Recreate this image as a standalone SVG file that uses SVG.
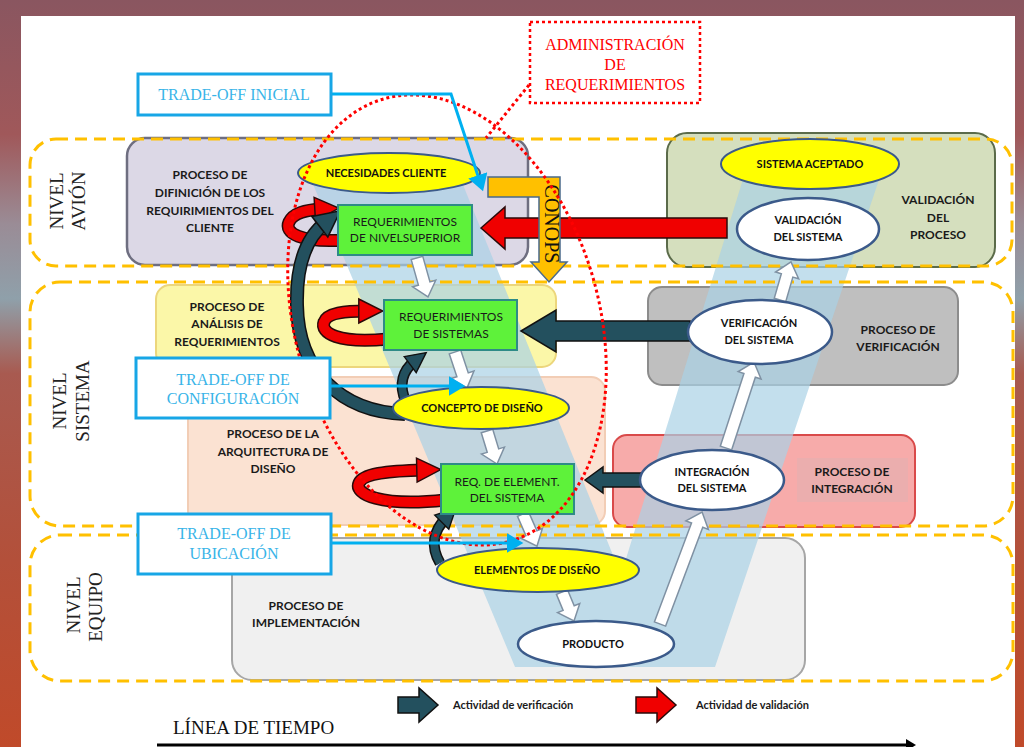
<svg xmlns="http://www.w3.org/2000/svg" width="1024" height="747" viewBox="0 0 1024 747">
<defs>
<style>
.pt{font-family:Lato,"Liberation Sans",sans-serif;font-weight:bold;font-size:12px;fill:#1a1a1a;text-anchor:middle}
.nb{font-family:Lato,"Liberation Sans",sans-serif;font-weight:bold;font-size:11px;fill:#111;text-anchor:middle}
.nr{font-family:Lato,"Liberation Sans",sans-serif;font-size:12px;fill:#1a1a1a;text-anchor:middle}
.lv{font-family:"Liberation Serif",serif;font-size:19px;fill:#222;text-anchor:middle}
.to{font-family:"Liberation Serif",serif;font-size:16px;fill:#38b4e8;text-anchor:middle}
.tobox{fill:#fff;stroke:#17a6e6;stroke-width:3}
.band{fill:none;stroke:#ffc000;stroke-width:3;stroke-dasharray:12 7}
.yel{fill:#ffff00;stroke:#3b5a8a;stroke-width:2}
.wht{fill:#fff;stroke:#3b5a8a;stroke-width:2.5}
.grn{fill:#5ef23a;stroke:#2e8b87;stroke-width:2}
.harrow{fill:#fff;stroke:#7f91a3;stroke-width:1.5}
.teal{fill:#23505e;stroke:#111;stroke-width:1.5}
.blue{fill:none;stroke:#00b0f0;stroke-width:3}
.lg{font-family:Lato,"Liberation Sans",sans-serif;font-weight:bold;font-size:11px;fill:#1a1a1a}
</style>
<linearGradient id="bg" x1="0" y1="0" x2="0" y2="1">
<stop offset="0" stop-color="#8a5660"/>
<stop offset="0.18" stop-color="#a0585a"/>
<stop offset="0.3" stop-color="#9a8c96"/>
<stop offset="0.4" stop-color="#8fa0aa"/>
<stop offset="0.5" stop-color="#a85a50"/>
<stop offset="0.75" stop-color="#b3503a"/>
<stop offset="1" stop-color="#c04a2a"/>
</linearGradient>
<marker id="mTeal" viewBox="0 0 10 10" refX="3" refY="5" markerWidth="26" markerHeight="26" markerUnits="userSpaceOnUse" orient="auto" overflow="visible"><path d="M0,0 L10,5 L0,10 Z" fill="#23505e" stroke="#111" stroke-width="0.6"/></marker>
<marker id="mTealS" viewBox="0 0 10 10" refX="3" refY="5" markerWidth="20" markerHeight="20" markerUnits="userSpaceOnUse" orient="auto" overflow="visible"><path d="M0,0 L10,5 L0,10 Z" fill="#23505e" stroke="#111" stroke-width="0.7"/></marker>
<marker id="mRed" viewBox="0 0 10 10" refX="3" refY="5" markerWidth="24" markerHeight="24" markerUnits="userSpaceOnUse" orient="auto" overflow="visible"><path d="M0,0 L10,5 L0,10 Z" fill="#f00000" stroke="#2a0a0a" stroke-width="0.6"/></marker>
<marker id="mBlue" viewBox="0 0 10 12" refX="8" refY="6" markerWidth="17" markerHeight="20" markerUnits="userSpaceOnUse" orient="auto"><path d="M0,0 L10,6 L0,12 Z" fill="#00b0f0"/></marker>
</defs>

<rect x="0" y="0" width="1024" height="747" fill="url(#bg)"/>
<rect x="21" y="16" width="994" height="731" fill="#ffffff"/>

<g id="process-boxes">
<g id="proc-definicion">
<rect x="127" y="138" width="401" height="127" rx="18" fill="#dcd8e6" stroke="#6e6e80" stroke-width="2.5"/>
<text class="pt" x="210" y="179">PROCESO DE</text>
<text class="pt" x="210" y="197">DIFINICIÓN  DE LOS</text>
<text class="pt" x="210" y="215">REQUIRIMIENTOS  DEL</text>
<text class="pt" x="210" y="232">CLIENTE</text>
</g>
<g id="proc-validacion">
<rect x="667" y="133" width="328" height="134" rx="20" fill="#d5dfbe" stroke="#5b6b4a" stroke-width="2"/>
<text class="pt" x="938" y="204">VALIDACIÓN</text>
<text class="pt" x="938" y="222">DEL</text>
<text class="pt" x="938" y="239">PROCESO</text>
</g>
<g id="proc-analisis">
<rect x="156" y="285" width="400" height="82" rx="14" fill="#fbf7a8" stroke="#ecd67c" stroke-width="2"/>
<text class="pt" x="227" y="311">PROCESO DE</text>
<text class="pt" x="227" y="328">ANÁLISIS DE</text>
<text class="pt" x="227" y="346">REQUERIMIENTOS</text>
</g>
<g id="proc-arquitectura">
<rect x="188" y="377" width="417" height="148" rx="14" fill="#fbe2d2" stroke="#f2cdb5" stroke-width="2"/>
<text class="pt" x="273" y="438">PROCESO DE LA</text>
<text class="pt" x="273" y="456">ARQUITECTURA  DE</text>
<text class="pt" x="273" y="473">DISEÑO</text>
</g>
<g id="proc-verificacion">
<rect x="648" y="287" width="310" height="98" rx="14" fill="#bfbfbf" stroke="#8c8c8c" stroke-width="2"/>
<text class="pt" x="898" y="334">PROCESO DE</text>
<text class="pt" x="898" y="351">VERIFICACIÓN</text>
</g>
<g id="proc-integracion">
<rect x="613" y="435" width="302" height="92" rx="14" fill="#f7abaa" stroke="#d94a4a" stroke-width="2"/>
<rect x="797" y="458" width="111" height="44" fill="#ebaeae"/>
<text class="pt" x="852" y="476">PROCESO DE</text>
<text class="pt" x="852" y="493">INTEGRACIÓN</text>
</g>
<g id="proc-implementacion">
<rect x="232" y="538" width="573" height="142" rx="20" fill="#f0f0f0" stroke="#a6a6a6" stroke-width="2"/>
<text class="pt" x="306" y="610">PROCESO DE</text>
<text class="pt" x="306" y="627">IMPLEMENTACIÓN</text>
</g>
</g>

<polygon id="v-band" points="305,165 455,165 621,575 752,150 889,150 715,667 515,667" fill="#a9d1e5" opacity="0.7"/>

<g id="levels">
<rect class="band" x="30" y="139" width="982" height="127" rx="26"/>
<rect class="band" x="30" y="282" width="983" height="244" rx="30"/>
<rect class="band" x="30" y="535" width="983" height="146" rx="30"/>
<text class="lv" transform="translate(63,201) rotate(-90)">NIVEL</text>
<text class="lv" transform="translate(85,201) rotate(-90)">AVIÓN</text>
<text class="lv" transform="translate(66,401) rotate(-90)">NIVEL</text>
<text class="lv" transform="translate(89,401) rotate(-90)">SISTEMA</text>
<text class="lv" transform="translate(80,605) rotate(-90)">NIVEL</text>
<text class="lv" transform="translate(102,607) rotate(-90)">EQUIPO</text>
</g>

<g id="connectors">
<!-- red validation arrow -->
<polygon points="481,228 505,207 505,218 727,218 727,238 505,238 505,249" fill="#f00000" stroke="#2a0a0a" stroke-width="1.5"/>
<!-- CONOPS -->
<g id="conops">
<path d="M488,177 L560,177 L560,262 L567,262 L549,282 L531,262 L539,262 L539,197 L488,197 Z" fill="#ffc000" stroke="#4a6a8a" stroke-width="1.5"/>
<text transform="translate(545,224) rotate(90)" style="font-family:'Liberation Serif',serif;font-size:20px;fill:#111;text-anchor:middle">CONOPS</text>
</g>
<!-- verification arrows -->
<polygon class="teal" points="521,331 556,310 556,321 690,321 690,341 556,341 556,352"/>
<polygon class="teal" points="585,480 603,467 603,473 645,473 645,487 603,487 603,493"/>
<!-- red loops -->
<path d="M345,240 C300,243 284,233 289,222 C293,213 305,210 322,209" fill="none" stroke="#2a0a0a" stroke-width="13"/>
<path d="M345,240 C300,243 284,233 289,222 C293,213 305,210 322,209" fill="none" stroke="#f00000" stroke-width="10" marker-end="url(#mRed)"/>
<path d="M388,339 C338,344 320,333 324,322 C327,313 345,311 366,311" fill="none" stroke="#2a0a0a" stroke-width="13"/>
<path d="M388,339 C338,344 320,333 324,322 C327,313 345,311 366,311" fill="none" stroke="#f00000" stroke-width="10" marker-end="url(#mRed)"/>
<path d="M445,500 C380,507 354,494 359,483 C363,474 385,471 424,470" fill="none" stroke="#2a0a0a" stroke-width="13"/>
<path d="M445,500 C380,507 354,494 359,483 C363,474 385,471 424,470" fill="none" stroke="#f00000" stroke-width="10" marker-end="url(#mRed)"/>
<!-- teal curved arrows -->
<path d="M405,414 C340,412 298,370 297,305 C296,262 308,236 326,222" fill="none" stroke="#111" stroke-width="14"/>
<path d="M405,414 C340,412 298,370 297,305 C296,262 308,236 326,222" fill="none" stroke="#23505e" stroke-width="11" marker-end="url(#mTeal)"/>
<path d="M406,402 C398,384 403,370 415,361" fill="none" stroke="#111" stroke-width="11"/>
<path d="M406,402 C398,384 403,370 415,361" fill="none" stroke="#23505e" stroke-width="8" marker-end="url(#mTealS)"/>
<path d="M440,563 C430,546 434,530 446,518" fill="none" stroke="#111" stroke-width="11"/>
<path d="M440,563 C430,546 434,530 446,518" fill="none" stroke="#23505e" stroke-width="8" marker-end="url(#mTealS)"/>
<!-- hollow flow arrows -->
<path class="harrow" transform="translate(417,258) rotate(74.25)" d="M0,-6 L26.5,-6 L26.5,-12 L40.5,0 L26.5,12 L26.5,6 L0,6 Z"/>
<path class="harrow" transform="translate(455,352) rotate(71.6)" d="M0,-6 L24,-6 L24,-12 L38,0 L24,12 L24,6 L0,6 Z"/>
<path class="harrow" transform="translate(487,431) rotate(73.1)" d="M0,-6 L20.5,-6 L20.5,-12 L34.5,0 L20.5,12 L20.5,6 L0,6 Z"/>
<path class="harrow" transform="translate(523,514) rotate(66.4)" d="M0,-6 L21,-6 L21,-12 L35,0 L21,12 L21,6 L0,6 Z"/>
<path class="harrow" transform="translate(562,592) rotate(67.5)" d="M0,-6 L17.4,-6 L17.4,-12 L31.4,0 L17.4,12 L17.4,6 L0,6 Z"/>
<path class="harrow" transform="translate(660,624) rotate(-69.4)" d="M0,-6 L105.6,-6 L105.6,-12 L119.6,0 L105.6,12 L105.6,6 L0,6 Z"/>
<path class="harrow" transform="translate(726,448) rotate(-71.97)" d="M0,-6 L76.4,-6 L76.4,-12 L90.4,0 L76.4,12 L76.4,6 L0,6 Z"/>
<path class="harrow" transform="translate(780,300) rotate(-73.9)" d="M0,-6 L25.6,-6 L25.6,-12 L39.6,0 L25.6,12 L25.6,6 L0,6 Z"/>
</g>

<g id="nodes">
<g id="n-necesidades"><ellipse class="yel" cx="389" cy="173" rx="91" ry="20"/><text class="nb" x="386" y="177">NECESIDADES CLIENTE</text></g>
<g id="n-req-superior"><rect class="grn" x="338" y="205" width="134" height="50"/><text class="nr" x="405" y="226">REQUERIMIENTOS</text><text class="nr" x="405" y="242">DE NIVELSUPERIOR</text></g>
<g id="n-aceptado"><ellipse class="yel" cx="810" cy="164" rx="89" ry="25"/><text class="nb" x="810" y="168">SISTEMA ACEPTADO</text></g>
<g id="n-validacion"><ellipse class="wht" cx="808" cy="229" rx="71" ry="31"/><text class="nb" x="808" y="224">VALIDACIÓN</text><text class="nb" x="808" y="241">DEL SISTEMA</text></g>
<g id="n-req-sistemas"><rect class="grn" x="384" y="300" width="133" height="50"/><text class="nr" x="451" y="321">REQUERIMIENTOS</text><text class="nr" x="451" y="338">DE SISTEMAS</text></g>
<g id="n-verificacion"><ellipse class="wht" cx="760" cy="332" rx="72" ry="32"/><text class="nb" x="759" y="327">VERIFICACIÓN</text><text class="nb" x="759" y="344">DEL SISTEMA</text></g>
<g id="n-concepto"><ellipse class="yel" cx="481" cy="408" rx="88" ry="21"/><text class="nb" x="482" y="412">CONCEPTO DE DISEÑO</text></g>
<g id="n-req-element"><rect class="grn" x="441" y="464" width="133" height="50"/><text class="nr" x="507" y="486">REQ. DE ELEMENT.</text><text class="nr" x="507" y="502">DEL SISTEMA</text></g>
<g id="n-integracion"><ellipse class="wht" cx="712" cy="480" rx="72" ry="30"/><text class="nb" x="712" y="476">INTEGRACIÓN</text><text class="nb" x="712" y="492">DEL SISTEMA</text></g>
<g id="n-elementos"><ellipse class="yel" cx="538" cy="570" rx="101" ry="22"/><text class="nb" x="537" y="574">ELEMENTOS DE DISEÑO</text></g>
<g id="n-producto"><ellipse class="wht" cx="596" cy="644" rx="78" ry="23"/><text class="nb" x="593" y="648">PRODUCTO</text></g>
</g>

<g id="admin-req">
<ellipse cx="447" cy="320" rx="152" ry="230" transform="rotate(-16 447 320)" fill="none" stroke="#ff0000" stroke-width="3" stroke-dasharray="3 3"/>
<line x1="529" y1="85" x2="486" y2="138" stroke="#ff0000" stroke-width="3" stroke-dasharray="3 3"/>
<rect x="530" y="22" width="170" height="81" fill="#fff" stroke="#ff0000" stroke-width="2.5" stroke-dasharray="3 3"/>
<text x="615" y="50" style="font-family:'Liberation Serif',serif;font-size:16px;fill:#ff0000;text-anchor:middle">ADMINISTRACIÓN</text>
<text x="615" y="70" style="font-family:'Liberation Serif',serif;font-size:16px;fill:#ff0000;text-anchor:middle">DE</text>
<text x="615" y="90" style="font-family:'Liberation Serif',serif;font-size:16px;fill:#ff0000;text-anchor:middle">REQUERIMIENTOS</text>
</g>

<g id="trade-offs">
<g id="to-inicial">
<polyline class="blue" points="331,94 451,94 482,188" marker-end="url(#mBlue)"/>
<rect class="tobox" x="138" y="74" width="193" height="41"/>
<text class="to" x="234" y="100">TRADE-OFF INICIAL</text>
</g>
<g id="to-configuracion">
<line class="blue" x1="330" y1="386" x2="462" y2="386" marker-end="url(#mBlue)"/>
<rect class="tobox" x="136" y="358" width="194" height="60"/>
<text class="to" x="233" y="385">TRADE-OFF DE</text>
<text class="to" x="233" y="404">CONFIGURACIÓN</text>
</g>
<g id="to-ubicacion">
<line class="blue" x1="331" y1="543" x2="520" y2="543" marker-end="url(#mBlue)"/>
<rect class="tobox" x="138" y="514" width="193" height="60"/>
<text class="to" x="234" y="539">TRADE-OFF DE</text>
<text class="to" x="234" y="559">UBICACIÓN</text>
</g>
</g>

<g id="legend">
<polygon class="teal" points="398,697 419,697 419,688 438,705 419,722 419,713 398,713"/>
<text class="lg" x="453" y="709">Actividad de verificación</text>
<polygon points="636,697 657,697 657,688 676,705 657,722 657,713 636,713" fill="#f00000" stroke="#2a0a0a" stroke-width="1.5"/>
<text class="lg" x="696" y="709">Actividad de validación</text>
</g>

<g id="timeline">
<text x="173" y="734" style="font-family:'Liberation Serif',serif;font-size:19px;fill:#111">LÍNEA DE TIEMPO</text>
<line x1="157" y1="745" x2="908" y2="745" stroke="#000" stroke-width="3"/>
<polygon points="906,739 916,745 906,751" fill="#000"/>
</g>
</svg>
